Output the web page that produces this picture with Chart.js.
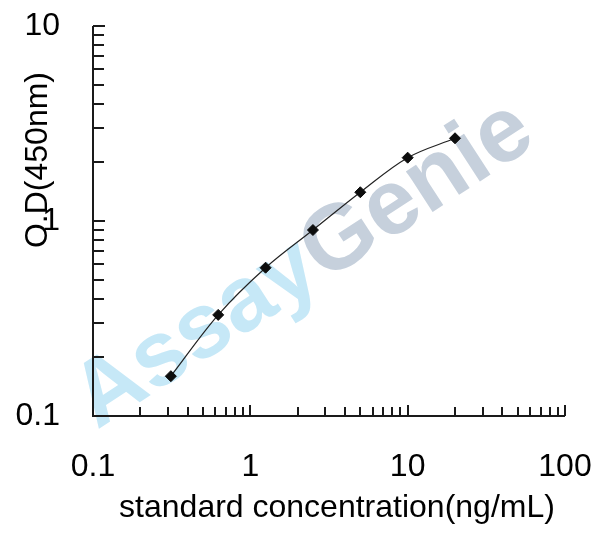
<!DOCTYPE html>
<html>
<head>
<meta charset="utf-8">
<script src="https://cdn.jsdelivr.net/npm/chart.js"></script>
<style>
  html, body { margin: 0; padding: 0; background: #fff; }
  #wrap { width: 608px; height: 534px; position: relative; }
</style>
</head>
<body>
<div id="wrap"><canvas id="chart"></canvas></div>
<script>
// standard curve data
const concentrations = [0.3125, 0.625, 1.25, 2.5, 5, 10, 20];
const odValues = [0.160, 0.330, 0.576, 0.899, 1.404, 2.112, 2.656];

const xTickValues = [0.1, 1, 10, 100];
const xTickLabels = ['0.1', '1', '10', '100'];
const yTickValues = [0.1, 1, 10];
const yTickLabels = ['0.1', '1', '10'];

const xTitle = 'standard concentration(ng/mL)';
const yTitle = 'O.D(450nm)';
const watermarkParts = ['Assay', 'Genie'];

const FONT = '"Liberation Sans", Arial, sans-serif';
const AXIS_COLOR = '#1a1a1a';

// minor tick values: 2..9 in every decade of the tick list
function minorTicks(decades) {
    const out = [];
    for (let i = 0; i < decades.length - 1; i++) {
        for (let m = 2; m <= 9; m++) out.push(decades[i] * m);
    }
    return out;
}

const watermark = {
    id: 'watermark',
    beforeDraw(chart) {
        const ctx = chart.ctx;
        ctx.save();
        ctx.fillStyle = '#fff';
        ctx.fillRect(0, 0, chart.width, chart.height);
        ctx.translate(97, 430);
        ctx.rotate(-33 * Math.PI / 180);
        ctx.font = 'bold 92px ' + FONT;
        ctx.textAlign = 'left';
        ctx.textBaseline = 'alphabetic';
        ctx.fillStyle = '#c6e8f7';
        ctx.fillText(watermarkParts[0], 0, 0);
        const w = ctx.measureText(watermarkParts[0]).width;
        ctx.fillStyle = '#c6d0dc';
        ctx.fillText(watermarkParts[1], w, 0);
        ctx.restore();
    }
};

const axesPlugin = {
    id: 'axesPlugin',
    beforeDatasetsDraw(chart) {
        const ctx = chart.ctx;
        const xs = chart.scales.x, ys = chart.scales.y;
        const area = chart.chartArea;
        ctx.save();
        ctx.strokeStyle = AXIS_COLOR;
        ctx.lineWidth = 2;

        // axis lines
        ctx.beginPath();
        ctx.moveTo(area.left, area.top);
        ctx.lineTo(area.left, area.bottom);
        ctx.lineTo(area.right, area.bottom);
        ctx.stroke();

        // ticks, pointing into the plot
        ctx.beginPath();
        yTickValues.forEach(v => {
            const py = Math.round(ys.getPixelForValue(v));
            ctx.moveTo(area.left, py); ctx.lineTo(area.left + 12, py);
        });
        minorTicks(yTickValues).forEach(v => {
            const py = Math.round(ys.getPixelForValue(v));
            ctx.moveTo(area.left, py); ctx.lineTo(area.left + 11, py);
        });
        xTickValues.forEach(v => {
            const px = Math.round(xs.getPixelForValue(v));
            ctx.moveTo(px, area.bottom); ctx.lineTo(px, area.bottom - 11);
        });
        minorTicks(xTickValues).forEach(v => {
            const px = Math.round(xs.getPixelForValue(v));
            ctx.moveTo(px, area.bottom); ctx.lineTo(px, area.bottom - 9);
        });
        ctx.stroke();

        // tick labels
        ctx.fillStyle = '#000';
        ctx.font = '32px ' + FONT;
        ctx.textAlign = 'right';
        ctx.textBaseline = 'middle';
        yTickValues.forEach((v, i) => {
            ctx.fillText(yTickLabels[i], 60, ys.getPixelForValue(v));
        });
        ctx.textAlign = 'center';
        xTickValues.forEach((v, i) => {
            ctx.fillText(xTickLabels[i], xs.getPixelForValue(v), 467);
        });

        // axis titles
        ctx.textBaseline = 'alphabetic';
        ctx.fillText(xTitle, 337, 517);
        ctx.save();
        ctx.translate(47, 160);
        ctx.rotate(-Math.PI / 2);
        ctx.fillText(yTitle, 0, 0);
        ctx.restore();
        ctx.restore();
    }
};

new Chart(document.getElementById('chart'), {
    type: 'line',
    data: {
        datasets: [{
            data: concentrations.map((c, i) => ({ x: c, y: odValues[i] })),
            borderColor: '#222',
            borderWidth: 1.2,
            tension: 0.35,
            pointStyle: 'rectRot',
            pointRadius: 5.5,
            pointBackgroundColor: '#0d0d0d',
            pointBorderColor: '#0d0d0d',
            pointBorderWidth: 1
        }]
    },
    options: {
        responsive: true,
        maintainAspectRatio: false,
        animation: false,
        layout: { padding: { left: 93, right: 43, top: 26, bottom: 118 } },
        plugins: { legend: { display: false }, tooltip: { enabled: false } },
        scales: {
            x: { type: 'logarithmic', min: 0.1, max: 100, display: false },
            y: { type: 'logarithmic', min: 0.1, max: 10, display: false }
        }
    },
    plugins: [watermark, axesPlugin]
});
</script>
</body>
</html>
